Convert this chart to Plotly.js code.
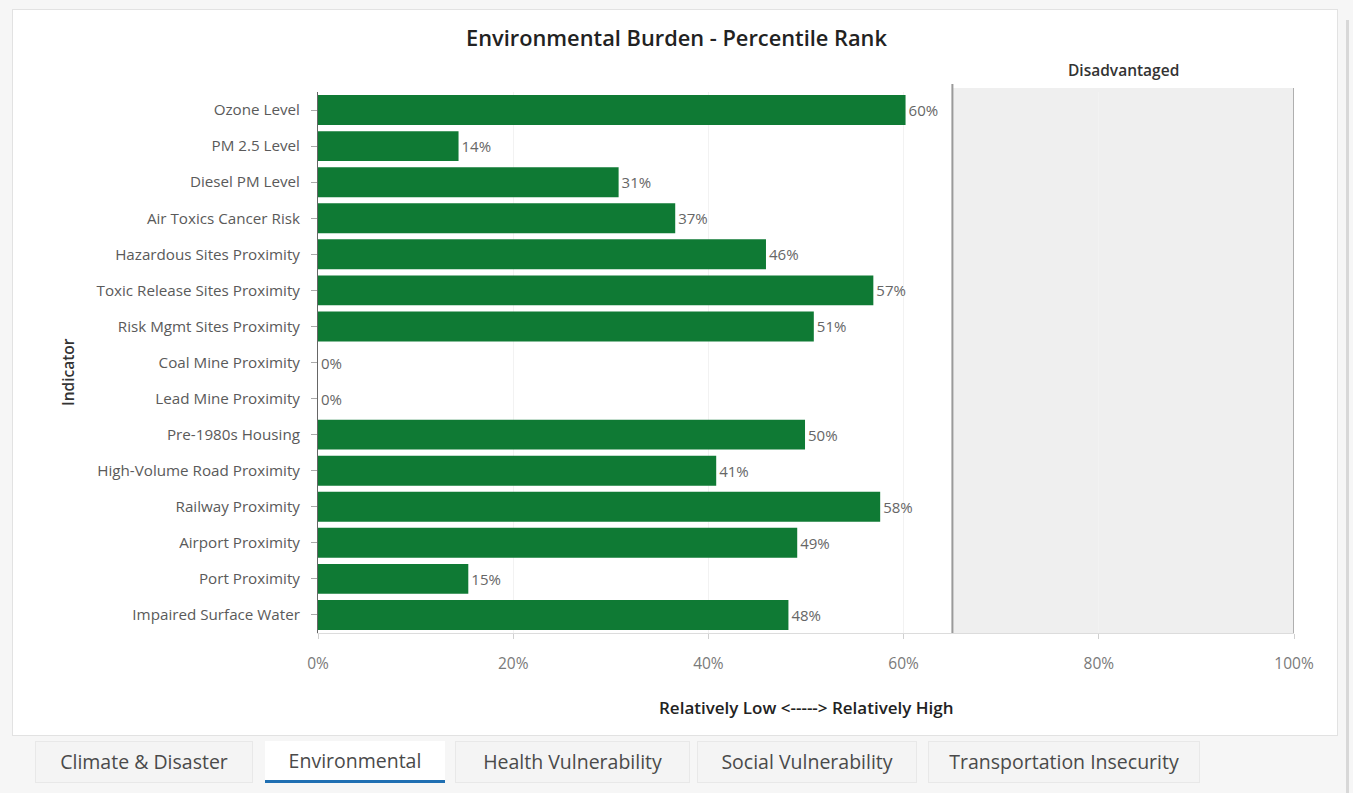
<!DOCTYPE html>
<html>
<head>
<meta charset="utf-8">
<script src="https://cdn.plot.ly/plotly-3.0.1.min.js"></script>
<style>
  html, body { margin:0; padding:0; width:1353px; height:793px; overflow:hidden; background:#f6f6f6; font-family: "Open Sans", Lato, sans-serif; }
  #card { position:absolute; left:12px; top:9px; width:1326px; height:727px; background:#fff; border:1px solid #e2e2e2; box-sizing:border-box; }
  #edge { position:absolute; left:1346px; top:20px; width:3px; height:773px; background:#d8d8d8; }
  #chart { position:absolute; left:0; top:0; width:1353px; height:793px; }
  .tab { position:absolute; top:741px; height:42px; line-height:40px; text-align:center; font-size:19.5px; color:#4a4a4a; background:#f4f4f4; border:1px solid #e8e8e8; box-sizing:border-box; }
  .tab.sel { background:#fff; border:none; border-bottom:3px solid #1f6fb2; }
</style>
</head>
<body>
<div id="card"></div>
<div id="edge"></div>
<div id="chart"></div>
<div id="tabs"></div>
<script>
const indicators = [
  "Ozone Level", "PM 2.5 Level", "Diesel PM Level", "Air Toxics Cancer Risk",
  "Hazardous Sites Proximity", "Toxic Release Sites Proximity", "Risk Mgmt Sites Proximity",
  "Coal Mine Proximity", "Lead Mine Proximity", "Pre-1980s Housing",
  "High-Volume Road Proximity", "Railway Proximity", "Airport Proximity",
  "Port Proximity", "Impaired Surface Water"
];
const percentiles = [60.2, 14.4, 30.8, 36.6, 45.9, 56.9, 50.8, 0, 0, 49.9, 40.8, 57.6, 49.1, 15.4, 48.2];
const xTickVals = [0, 20, 40, 60, 80, 100];
const xTickText = ["0%", "20%", "40%", "60%", "80%", "100%"];
const disadvantagedStart = 65;
const disadvantagedEnd = 100;
const tabNames = ["Climate & Disaster", "Environmental", "Health Vulnerability", "Social Vulnerability", "Transportation Insecurity"];
const tabLeft = [35, 265, 455, 697, 928];
const tabWidth = [218, 180, 235, 220, 272];
const selectedTab = 1;

const font = "'Open Sans', Lato, sans-serif";

const trace = {
  type: "bar",
  orientation: "h",
  y: indicators,
  x: percentiles,
  marker: { color: "#0f7a34", line: { width: 0 } },
  text: percentiles,
  texttemplate: "%{x:.0f}%",
  textposition: "outside",
  textfont: { family: font, size: 15, color: "#666" },
  cliponaxis: false,
  hoverinfo: "y+x"
};

const layout = {
  width: 1353, height: 793,
  margin: { l: 318, r: 59, t: 92, b: 160 },
  paper_bgcolor: "rgba(0,0,0,0)",
  plot_bgcolor: "rgba(0,0,0,0)",
  bargap: 0.17,
  showlegend: false,
  font: { family: font, color: "#555" },
  title: { text: "Environmental Burden - Percentile Rank", x: 0.5, xanchor: "center", y: 1 - 38/793, yanchor: "middle",
           font: { family: font, size: 21.8, color: "#222", weight: 600 } },
  xaxis: {
    range: [0, 100], tickvals: xTickVals, ticktext: xTickText,
    showgrid: true, gridcolor: "#f2f2f2", zeroline: false,
    showline: true, linecolor: "#dcdcdc", linewidth: 1,
    ticks: "outside", ticklen: 5, tickcolor: "#d0d0d0",
    ticklabelstandoff: 11,
    tickfont: { family: font, size: 15.5, color: "#7a7a7a" },
    fixedrange: true
  },
  yaxis: {
    autorange: "reversed",
    showline: true, linecolor: "#666", linewidth: 1,
    showgrid: false,
    ticks: "outside", ticklen: 6, tickcolor: "#aaa",
    ticklabelstandoff: 8,
    tickfont: { family: font, size: 15.2, color: "#5a5a5a" },
    fixedrange: true
  },
  shapes: [
    { type: "rect", xref: "x", yref: "paper", x0: disadvantagedStart, x1: disadvantagedEnd, y0: 0, y1: (633-88)/541,
      fillcolor: "#efefef", line: { width: 0 }, layer: "below" },
    { type: "line", xref: "x", yref: "paper", x0: disadvantagedStart, x1: disadvantagedStart, y0: 0, y1: (633-84)/541,
      line: { color: "#9a9a9a", width: 2 } },
    { type: "line", xref: "x", yref: "paper", x0: disadvantagedEnd, x1: disadvantagedEnd, y0: 0, y1: (633-88)/541,
      line: { color: "#9a9a9a", width: 1.5 } }
  ],
  annotations: [
    { text: "Disadvantaged", xref: "x", yref: "paper", x: (disadvantagedStart + disadvantagedEnd)/2, y: (633-70)/541,
      showarrow: false, xanchor: "center", yanchor: "middle", font: { family: font, size: 15.5, color: "#333", weight: 600 } },
    { text: "Indicator", xref: "paper", yref: "paper", x: (68-318)/976, y: (633-372)/541, textangle: -90,
      showarrow: false, xanchor: "center", yanchor: "middle", font: { family: font, size: 15.5, color: "#333", weight: 600 } },
    { text: "Relatively Low <-----> Relatively High", xref: "paper", yref: "paper", x: 0.5, y: (633-707)/541,
      showarrow: false, xanchor: "center", yanchor: "middle", font: { family: font, size: 17, color: "#222", weight: 600 } }
  ]
};

Plotly.newPlot("chart", [trace], layout, { displayModeBar: false, responsive: false });

const tabs = document.getElementById("tabs");
tabNames.forEach((name, i) => {
  const d = document.createElement("div");
  d.className = "tab" + (i === selectedTab ? " sel" : "");
  d.style.left = tabLeft[i] + "px";
  d.style.width = tabWidth[i] + "px";
  d.textContent = name;
  tabs.appendChild(d);
});
</script>
</body>
</html>
